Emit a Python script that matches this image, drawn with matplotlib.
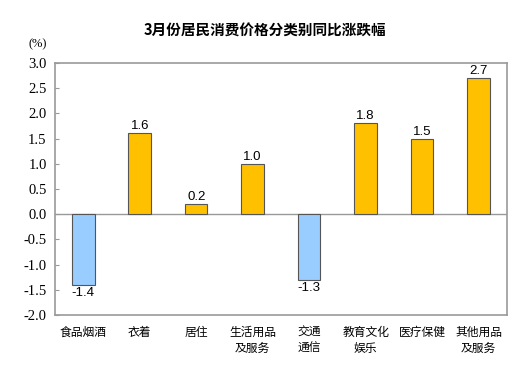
import matplotlib
matplotlib.use("Agg")
import matplotlib.pyplot as plt
import numpy as np

plt.rcParams['font.family'] = ['Noto Sans CJK SC', 'DejaVu Sans']

# ── Data ──────────────────────────────────────────────────────────────────────
categories = ["食品烟酒", "衣着", "居住", "生活用品\n及服务", "交通\n通信",
              "教育文化\n娱乐", "医疗保健", "其他用品\n及服务"]
values = [-1.4, 1.6, 0.2, 1.0, -1.3, 1.8, 1.5, 2.7]
yticks = [3.0, 2.5, 2.0, 1.5, 1.0, 0.5, 0.0, -0.5, -1.0, -1.5, -2.0]

# ── Plot ──────────────────────────────────────────────────────────────────────
fig = plt.figure(figsize=(5.29, 3.79), dpi=100)
ax = fig.add_axes([0.104, 0.169, 0.854, 0.665])

x = np.arange(len(categories))
colors = ['#99CCFF' if v < 0 else '#FFC000' for v in values]
ax.bar(x, values, width=0.4, color=colors, edgecolor='#555555', linewidth=0.8, zorder=3)

for xi, v in zip(x, values):
    off = 0.02 if v >= 0 else -0.05
    ax.text(xi, v + off, f"{v:.1f}", ha='center', va='bottom' if v >= 0 else 'top',
            fontsize=9.5, family='Liberation Sans', color='black')

ax.axhline(0, color='#999999', lw=1, zorder=2)
ax.set_xlim(-0.5, len(categories) - 0.5)
ax.set_ylim(-2.0, 3.0)
ax.set_yticks(yticks)
ax.set_yticklabels([f"{t:.1f}" for t in yticks], family='Liberation Serif', fontsize=10.5)
ax.set_xticks(x)
ax.set_xticklabels(categories, fontsize=8.5, linespacing=1.3, va='top')
ax.tick_params(axis='x', length=0, pad=8)
ax.tick_params(axis='y', direction='in', length=3, color='#999999', pad=6)
for s in ax.spines.values():
    s.set_color('#999999')
    s.set_linewidth(1.2)

fig.text(0.053, 0.882, "(%)", family='Liberation Serif', fontsize=9, ha='left', va='center')
fig.text(0.5, 0.92, "3月份居民消费价格分类别同比涨跌幅", fontsize=10.5, fontweight='bold',
         ha='center', va='center')

fig.savefig("out.png", dpi=100)
